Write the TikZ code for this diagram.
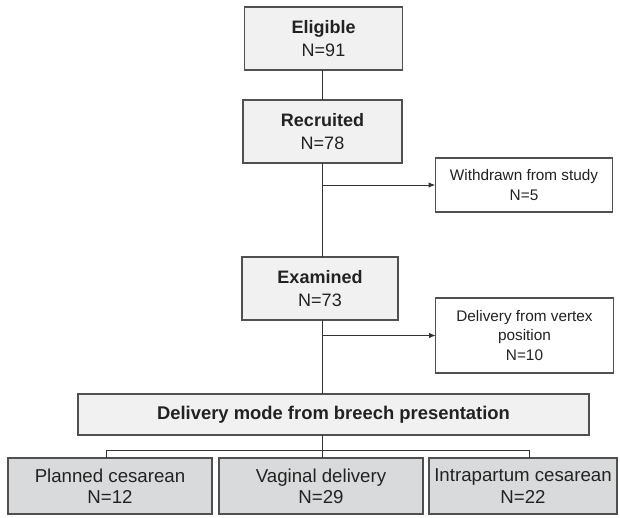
\documentclass[tikz,border=0pt]{standalone}
\usepackage{fontspec}
\setmainfont{Liberation Sans}
\usepackage{xcolor}
\usepackage{tikz}
\usetikzlibrary{arrows.meta, positioning}
\definecolor{linegray}{RGB}{51,51,51}
\definecolor{boxedge}{RGB}{80,80,80}
\definecolor{lightfill}{RGB}{240,241,240}
\definecolor{darkfill}{RGB}{217,218,219}
\definecolor{textgray}{RGB}{34,34,34}

\begin{document}
\begin{tikzpicture}[x=0.75pt, y=-0.75pt,
      font=\fontsize{13.5}{17.5}\selectfont, text=textgray,
      mainbox/.style={rectangle, draw=boxedge, line width=0.9pt, fill=lightfill,
                inner sep=0pt, outer sep=0pt, align=center,
                minimum width=118pt, minimum height=47.25pt},
      sidebox/.style={rectangle, draw=boxedge, line width=0.9pt, fill=white,
                inner sep=0pt, outer sep=0pt, align=center, minimum width=133pt,
                font=\fontsize{11.5}{14.5}\selectfont},
      outbox/.style={rectangle, draw=boxedge, line width=0.9pt, fill=darkfill,
                inner sep=0pt, outer sep=0pt, align=center,
                minimum width=153pt, minimum height=42pt,
                font=\fontsize{14}{16}\selectfont},
      ln/.style={draw=linegray, line width=0.75pt},
      arr/.style={ln, -{Latex[length=5pt, width=4pt]}}
    ]
      \useasboundingbox (0,0) rectangle (620,517);
      % main chain
      \node[mainbox] (elig) at (323.5,38.5) {\textbf{Eligible}\\N=91};
      \node[mainbox, minimum width=119.25pt] (recr) at (322.5,131.5) {\textbf{Recruited}\\N=78};
      \node[mainbox, minimum width=117pt] (exam) at (320,288.5) {\textbf{Examined}\\N=73};
      \node[mainbox, minimum width=383.25pt, minimum height=30.75pt,
            font=\fontsize{13.8}{16}\selectfont] (mode) at (333.5,414.5)
        {\textbf{Delivery mode from breech presentation}};
      % exclusions
      \node[sidebox, minimum height=40.5pt] (withd) at (524,185) {Withdrawn from study\\N=5};
      \node[sidebox, minimum height=56.25pt] (vert) at (524.5,335.5) {Delivery from vertex\\position\\N=10};
      % outcomes
      \node[outbox] (plan) at (110,486) {Planned cesarean\\N=12};
      \node[outbox] (vag) at (321,486) {Vaginal delivery\\N=29};
      \node[outbox, minimum width=141pt] (intra) at (523,486) {Intrapartum cesarean\\N=22};

      \draw[ln] (elig.south -| recr.south) -- (recr.north);
      \draw[ln] (recr.south) -- (recr.south |- exam.north);
      \draw[arr] (recr.south |- withd.west) -- (withd.west);
      \draw[ln] (exam.south -| recr.south) -- (recr.south |- mode.north);
      \draw[arr] (recr.south |- vert.west) -- (vert.west);

      \coordinate (jl) at (106,450);
      \coordinate (jr) at (529,450);
      \draw[ln] (jl |- plan.north) -- (jl) -- (jr) -- (jr |- intra.north);
      \draw[ln] (vag.north -| recr.south) -- (recr.south |- mode.south);
    \end{tikzpicture}
\end{document}
